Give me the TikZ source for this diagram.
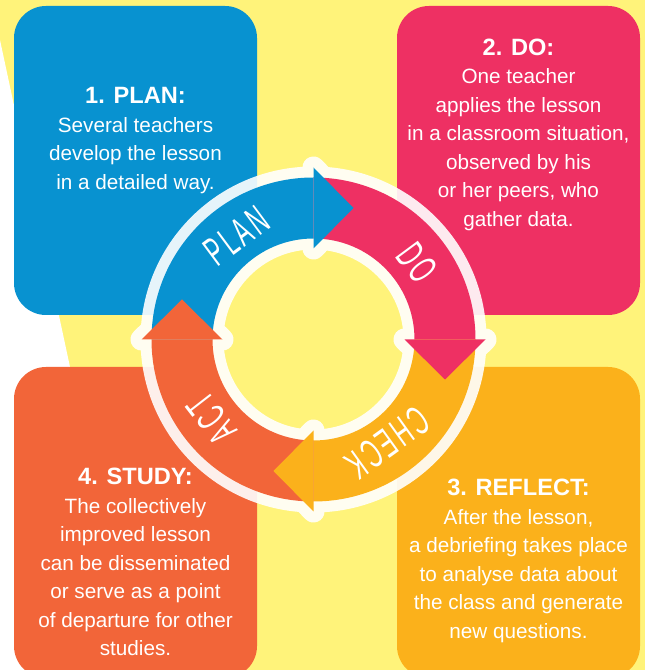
\documentclass[tikz,border=0pt]{standalone}
\usepackage{fontspec}
\setmainfont{Liberation Sans}
\newfontfamily\arrowfont[FakeStretch=0.55,LetterSpace=8]{Liberation Sans}
\usetikzlibrary{calc}
\definecolor{bgyellow}{HTML}{FFF37A}
\definecolor{cblue}{HTML}{0892D0}
\definecolor{cpink}{HTML}{EE3063}
\definecolor{corange}{HTML}{F26539}
\definecolor{cgold}{HTML}{FBB11B}
\newcommand\cardtitle[1]{{\fontsize{23.6}{28.5}\selectfont\bfseries #1}}
\begin{document}
\begin{tikzpicture}[x=1pt,y=1pt,
  card/.style={rounded corners=32pt},
  cardtext/.style={anchor=base, inner sep=0pt, text=white, font=\fontsize{20.7}{28.5}\selectfont},
  ringline/.style={draw=white, line width=22pt, line join=round},
  arrowlabel/.style={text=white, inner sep=0pt, font=\arrowfont\fontsize{41}{41}\selectfont}
]
\useasboundingbox (0,0) rectangle (645,670);
\clip (0,0) rectangle (645,670);
\fill[bgyellow] (0,0) rectangle (645,670);
\fill[white] (0,630) -- (70,303) -- (140,0) -- (0,0) -- cycle;
% cards
\fill[cblue, card] (14,355) rectangle (257,664);
\fill[cpink, card] (397,355) rectangle (640,664);
\fill[corange, card] (14,-8) rectangle (257,303);
\fill[cgold, card] (397,-8) rectangle (640,303);
\node[cardtext] (plantext) at (135.5,566) {\begin{tabular}[t]{@{}c@{}}\cardtitle{1. PLAN:}\\Several teachers\\develop the lesson\\in a detailed way.\end{tabular}};
\node[cardtext] (dotext) at (518.5,614.5) {\begin{tabular}[t]{@{}c@{}}\cardtitle{2. DO:}\\One teacher\\applies the lesson\\in a classroom situation,\\observed by his\\or her peers, who\\gather data.\end{tabular}};
\node[cardtext] (studytext) at (135.5,185) {\begin{tabular}[t]{@{}c@{}}\cardtitle{4. STUDY:}\\The collectively\\improved lesson\\can be disseminated\\or serve as a point\\of departure for other\\studies.\end{tabular}};
\node[cardtext] (reflecttext) at (518.5,174) {\begin{tabular}[t]{@{}c@{}}\cardtitle{3. REFLECT:}\\After the lesson,\\a debriefing takes place\\to analyse data about\\the class and generate\\new questions.\end{tabular}};
% cycle
\begin{scope}[shift={(313.5,330.5)}]
  \fill[bgyellow] (0,0) circle (101);
  \begin{scope}[transparency group, opacity=0.9]
    \foreach \s/\e/\t in {180/90/0, 90/0/-90, 0/-90/-180, -90/-180/-270} {
      \draw[ringline] (\s:162) arc[start angle=\s, end angle=\e, radius=162] -- (\e:101) arc[start angle=\e, end angle=\s, radius=101] -- cycle;
      \draw[ringline] (\e:91) -- (\e:172) -- ($(\e:131.5)+(\t:40)$) -- cycle;
    }
  \end{scope}
  \foreach \s/\e/\c in {180/90/cblue, 90/0/cpink, 0/-90/cgold, -90/-180/corange} {
    \fill[\c] (\s:162) arc[start angle=\s, end angle=\e, radius=162] -- (\e:101) arc[start angle=\e, end angle=\s, radius=101] -- cycle;
  }
  \foreach \e/\t/\c in {90/0/cblue, 0/-90/cpink, -90/-180/cgold, -180/-270/corange} {
    \fill[\c] (\e:91) -- (\e:172) -- ($(\e:131.5)+(\t:40)$) -- cycle;
  }
  \node[arrowlabel, rotate=36.6] (lplan) at (126.6:129) {PLAN};
  \node[arrowlabel, rotate=-53.5] (ldo) at (36.5:129) {DO};
  \node[arrowlabel, rotate=-144.3] (lcheck) at (-54.3:127) {CHECK};
  \node[arrowlabel, rotate=127.8] (lact) at (217.8:129) {ACT};
\end{scope}
\end{tikzpicture}
\end{document}
